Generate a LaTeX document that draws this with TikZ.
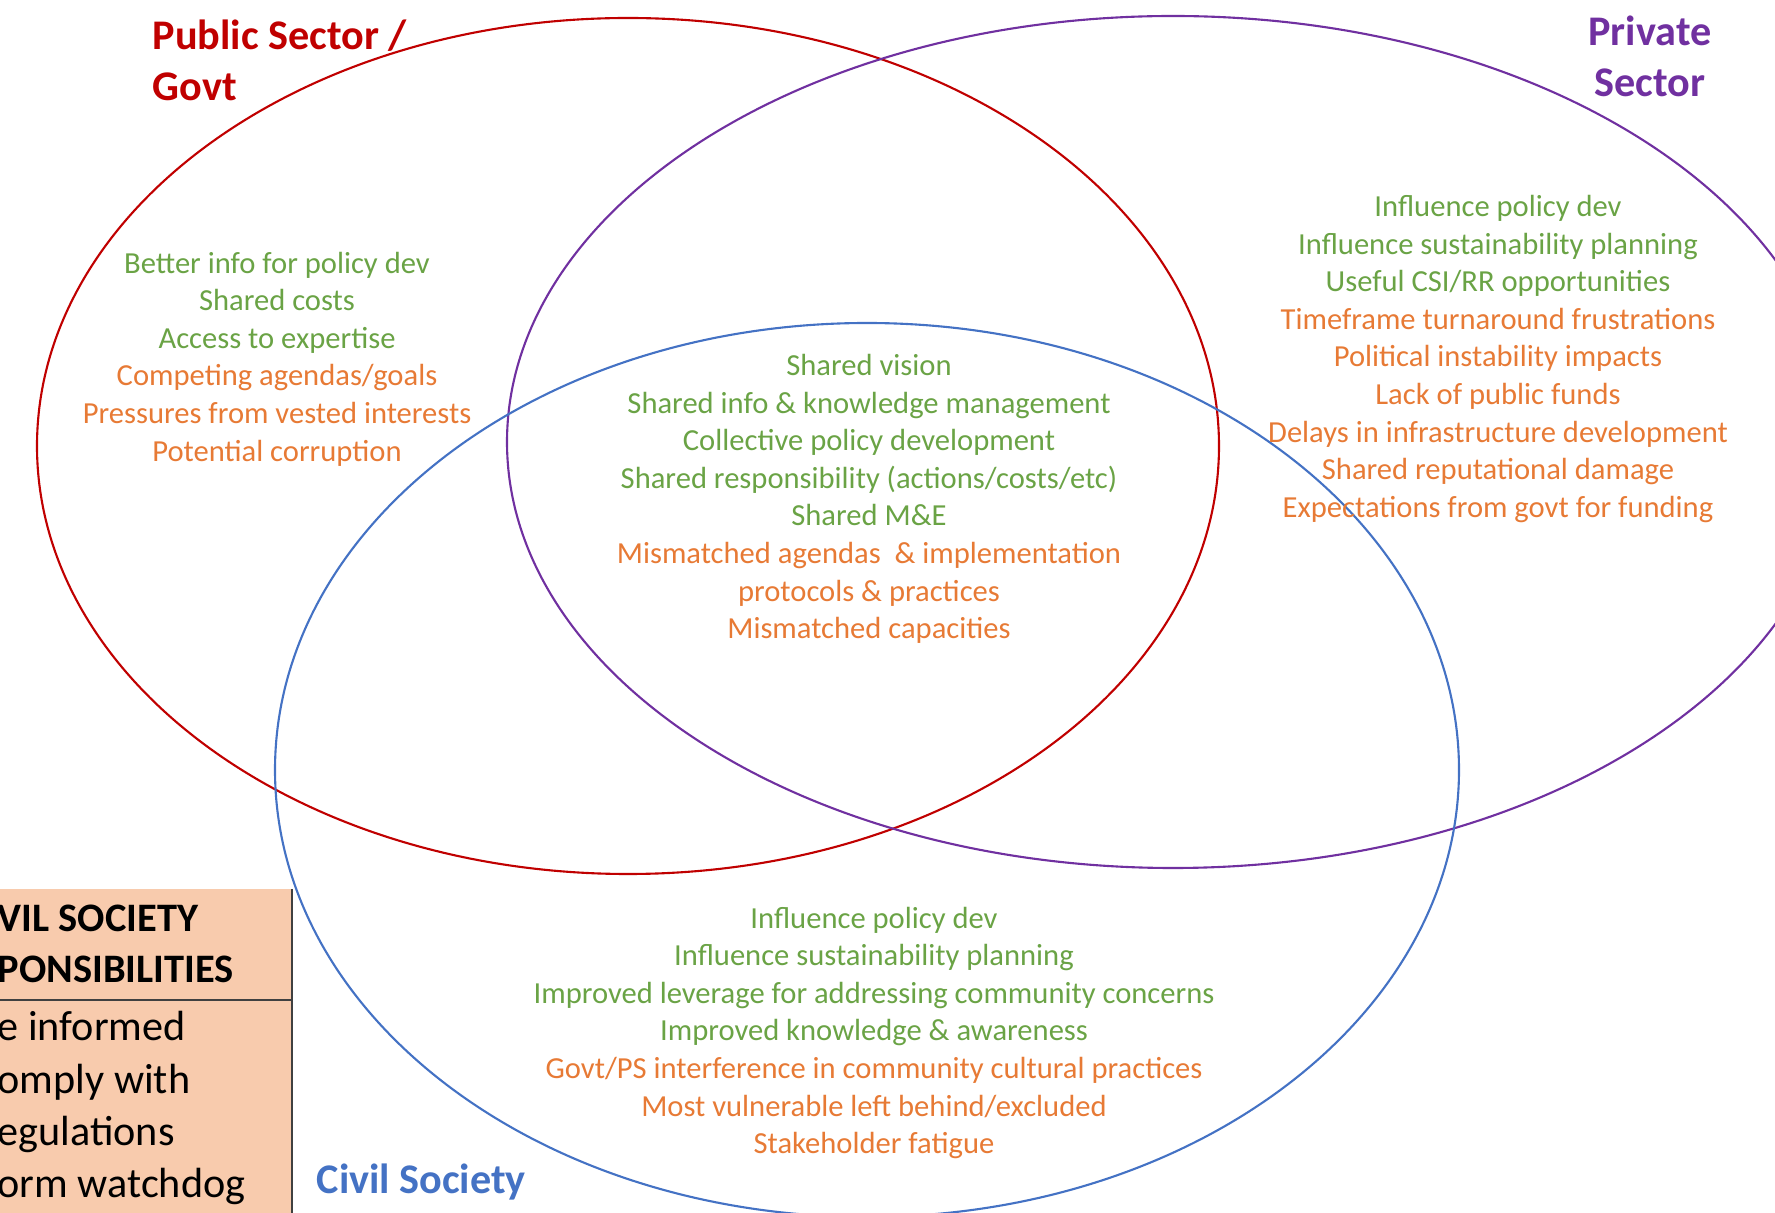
\documentclass[tikz,border=0pt]{standalone}
\usepackage{fontspec}
\setmainfont{Carlito}
\usetikzlibrary{positioning}
\definecolor{govred}{HTML}{C00000}
\definecolor{privpurple}{HTML}{7030A0}
\definecolor{civblue}{HTML}{4472C4}
\definecolor{gain}{HTML}{6AA345}
\definecolor{risk}{HTML}{E77A35}
\definecolor{peach}{HTML}{F8CBAD}

\begin{document}
\begin{tikzpicture}[x=0.01cm, y=-0.01cm,
  ring/.style={line width=0.6pt},
  items/.style={align=center, inner sep=0pt, font=\fontsize{8.7}{10.7}\selectfont},
  sector/.style={inner sep=0pt, font=\fontsize{12}{14.5}\selectfont\bfseries},
  resp/.style={align=left, anchor=west, inner sep=0pt}]
  \useasboundingbox (0,0) rectangle (1775,1213);
  \clip (0,0) rectangle (1775,1213);

  % the three sectors
  \draw[ring, govred] (628,446) ellipse [x radius=591, y radius=428];
  \draw[ring, privpurple] (1173,442) ellipse [x radius=666, y radius=426];
  \draw[ring, civblue] (867,770) ellipse [x radius=592, y radius=447];

  \node[sector, text=govred, align=left, anchor=base west] (govt) at (152,101) {Public Sector /\\Govt};
  \node[sector, text=privpurple, align=center] (priv) at (1650,56) {Private\\Sector};
  \node[sector, text=civblue, anchor=west] (civil) at (316,1182) {Civil Society};

  % benefits (green) and risks (orange)
  \node[items] (govtitems) at (277,359) {
    \textcolor{gain}{Better info for policy dev}\\
    \textcolor{gain}{Shared costs}\\
    \textcolor{gain}{Access to expertise}\\
    \textcolor{risk}{Competing agendas/goals}\\
    \textcolor{risk}{Pressures from vested interests}\\
    \textcolor{risk}{Potential corruption}};
  \node[items] (privitems) at (1498,359) {
    \textcolor{gain}{Influence policy dev}\\
    \textcolor{gain}{Influence sustainability planning}\\
    \textcolor{gain}{Useful CSI/RR opportunities}\\
    \textcolor{risk}{Timeframe turnaround frustrations}\\
    \textcolor{risk}{Political instability impacts}\\
    \textcolor{risk}{Lack of public funds}\\
    \textcolor{risk}{Delays in infrastructure development}\\
    \textcolor{risk}{Shared reputational damage}\\
    \textcolor{risk}{Expectations from govt for funding}};
  \node[items] (centreitems) at (869,499) {
    \textcolor{gain}{Shared vision}\\
    \textcolor{gain}{Shared info \& knowledge management}\\
    \textcolor{gain}{Collective policy development}\\
    \textcolor{gain}{Shared responsibility (actions/costs/etc)}\\
    \textcolor{gain}{Shared M\&E}\\
    \textcolor{risk}{Mismatched agendas \ \& implementation}\\
    \textcolor{risk}{protocols \& practices}\\
    \textcolor{risk}{Mismatched capacities}};
  \node[items] (civilitems) at (874,1033) {
    \textcolor{gain}{Influence policy dev}\\
    \textcolor{gain}{Influence sustainability planning}\\
    \textcolor{gain}{Improved leverage for addressing community concerns}\\
    \textcolor{gain}{Improved knowledge \& awareness}\\
    \textcolor{risk}{Govt/PS interference in community cultural practices}\\
    \textcolor{risk}{Most vulnerable left behind/excluded}\\
    \textcolor{risk}{Stakeholder fatigue}};

  % responsibilities box, cut by the page edge
  \fill[peach] (0,889) rectangle (292,1213);
  \draw[black!75, line width=0.6pt] (292,889) -- (292,1213);
  \draw[black!75, line width=0.5pt] (0,1000) -- (292,1000);
  \node[resp, font=\fontsize{11.5}{14.5}\selectfont\bfseries] (resphead) at (-3,944) {VIL SOCIETY\\PONSIBILITIES};
  \node[resp, font=\fontsize{12}{14.8}\selectfont] (resplist) at (-3,1108) {e informed\\omply with\\egulations\\orm watchdog};
\end{tikzpicture}
\end{document}
